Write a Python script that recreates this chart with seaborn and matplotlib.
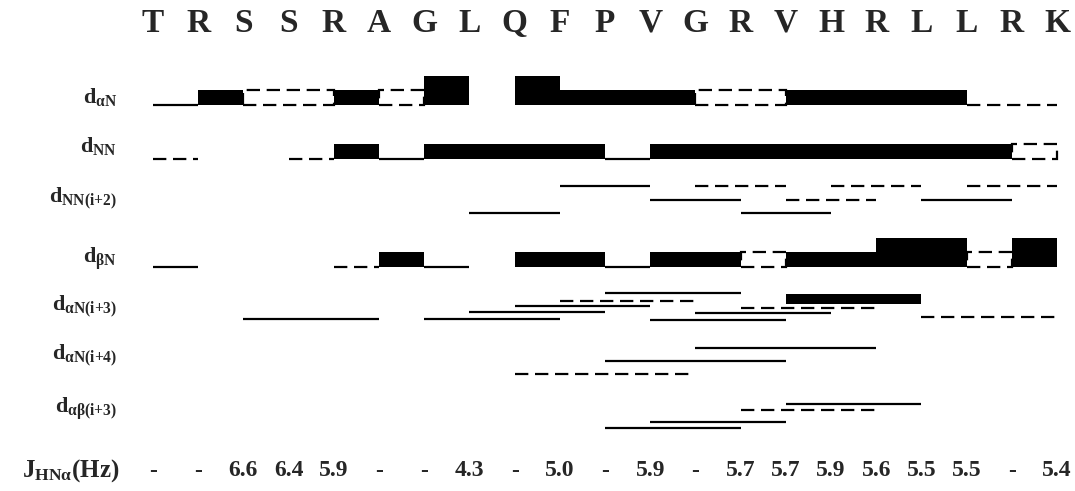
import matplotlib
matplotlib.use("Agg")
import matplotlib.pyplot as plt
import seaborn as sns

# sequence and coupling constants
residues = list("TRSSRAGLQFPVGRVHRLLRK")
j_values = ["-", "-", "6.6", "6.4", "5.9", "-", "-", "4.3", "-", "5.0", "-",
            "5.9", "-", "5.7", "5.7", "5.9", "5.6", "5.5", "5.5", "-", "5.4"]

# sequential NOEs: (from residue, to residue, kind)
d_an = [(0, 1, "weak"), (1, 2, "medium"), (2, 4, "box"), (4, 5, "medium"),
        (5, 6, "box"), (6, 7, "strong"), (8, 9, "strong"), (9, 12, "medium"),
        (12, 14, "box"), (14, 18, "medium"), (18, 20, "dashed")]
d_nn = [(0, 1, "dashed"), (3, 4, "dashed"), (4, 5, "medium"), (5, 6, "weak"),
        (6, 10, "medium"), (10, 11, "weak"), (11, 19, "medium"), (19, 20, "box")]
d_bn = [(0, 1, "weak"), (4, 5, "dashed"), (5, 6, "medium"), (6, 7, "weak"),
        (8, 10, "medium"), (10, 11, "weak"), (11, 13, "medium"), (13, 14, "box"),
        (14, 16, "medium"), (16, 18, "strong"), (18, 19, "box"), (19, 20, "strong")]

# medium range NOEs
d_nn2 = [(9, 11, "weak"), (12, 14, "dashed"), (15, 17, "dashed"), (18, 20, "dashed"),
         (11, 13, "weak"), (14, 16, "dashed"), (17, 19, "weak"),
         (7, 9, "weak"), (13, 15, "weak")]
d_an3 = [(10, 13, "weak"), (14, 17, "thin"), (9, 12, "dashed"), (8, 11, "weak"),
         (13, 16, "dashed"), (7, 10, "weak"), (12, 15, "weak"), (17, 20, "dashed"),
         (2, 5, "weak"), (6, 9, "weak"), (11, 14, "weak")]
d_an4 = [(12, 16, "weak"), (10, 14, "weak"), (8, 12, "dashed")]
d_ab3 = [(14, 17, "weak"), (13, 16, "dashed"), (11, 14, "weak"), (10, 13, "weak")]

# layout (pixel rows)
d_nn2_y = [186, 186, 186, 186, 200, 200, 200, 213, 213]
d_an3_y = [293, 304, 301, 306, 308, 312, 313, 317, 319, 319, 320]
d_an4_y = [348, 361, 374]
d_ab3_y = [404, 410, 422, 428]

sns.set_theme(style="white")
plt.rcParams["font.family"] = ["Liberation Serif", "DejaVu Serif"]
plt.rcParams["mathtext.fontset"] = "custom"
plt.rcParams["mathtext.bf"] = "Liberation Serif:bold"
plt.rcParams["mathtext.rm"] = "Liberation Serif:bold"
plt.rcParams["mathtext.it"] = "Liberation Serif:bold"

fig = plt.figure(figsize=(10.75, 4.91), dpi=100)
ax = fig.add_axes([0, 0, 1, 1])
x0, step = 153, 45.2
ax.set_xlim(-x0 / step, (1075 - x0) / step)
ax.set_ylim(491, 0)
ax.axis("off")

heights = {"strong": 29, "medium": 15, "thin": 10}
dash = (0, (6, 3))


def draw(seg, base):
    start, end, kind = seg
    if kind in heights:
        ax.bar(start, -heights[kind], width=end - start, bottom=base,
               align="edge", color="black", linewidth=0)
    elif kind == "box":
        ax.bar(start, -heights["medium"], width=end - start, bottom=base,
               align="edge", fill=False, edgecolor="black",
               linestyle=dash, linewidth=1.6)
    elif kind == "weak":
        ax.hlines(base, start, end, color="black", linewidth=1.6)
    else:
        ax.hlines(base, start, end, color="black", linewidth=1.6, linestyles=[dash])


for seg in d_an:
    draw(seg, 105)
for seg in d_nn:
    draw(seg, 159)
for seg in d_bn:
    draw(seg, 267)
for segs, ys in [(d_nn2, d_nn2_y), (d_an3, d_an3_y), (d_an4, d_an4_y), (d_ab3, d_ab3_y)]:
    for seg, y in zip(segs, ys):
        draw(seg, y)

# residue letters and J values
for i, (r, j) in enumerate(zip(residues, j_values)):
    ax.text(i, 23, r, ha="center", va="center", fontsize=24, fontweight="bold")
    ax.text(i, 471, j, ha="center", va="center", fontsize=17, fontweight="bold")

labels = [(97, r"$\mathbf{d}_{\mathbf{αN}}$"),
          (146, r"$\mathbf{d}_{\mathbf{NN}}$"),
          (198, r"$\mathbf{d}_{\mathbf{NN(i{+}2)}}$"),
          (259, r"$\mathbf{d}_{\mathbf{βN}}$"),
          (306, r"$\mathbf{d}_{\mathbf{αN(i{+}3)}}$"),
          (355, r"$\mathbf{d}_{\mathbf{αN(i{+}4)}}$"),
          (409, r"$\mathbf{d}_{\mathbf{αβ(i{+}3)}}$")]
for y, lab in labels:
    ax.text(-(x0 - 117) / step, y, lab, ha="right", va="center", fontsize=16)

ax.text(-(x0 - 22) / step, 471, r"$\mathbf{J}_{\mathbf{HNα}}\mathbf{(Hz)}$",
        ha="left", va="center", fontsize=18)

fig.savefig("out.png", dpi=100, facecolor="white")
